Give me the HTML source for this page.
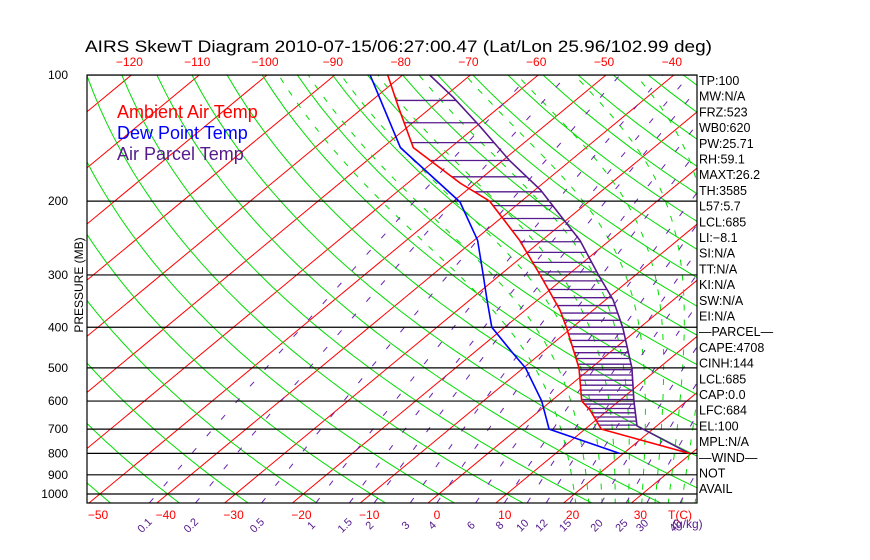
<!DOCTYPE html>
<html><head><meta charset="utf-8"><style>
html,body{margin:0;padding:0;background:#fff;width:870px;height:560px;overflow:hidden}
svg text{font-family:"Liberation Sans",sans-serif}
</style></head><body>
<svg id="c" width="870" height="560" viewBox="0 0 870 560" xmlns="http://www.w3.org/2000/svg">
<defs><clipPath id="pc"><rect x="87" y="75" width="610" height="428"/></clipPath></defs>
<rect width="870" height="560" fill="#fff"/>
<text x="85" y="52" font-size="17" textLength="627" lengthAdjust="spacingAndGlyphs" fill="#000">AIRS SkewT Diagram 2010-07-15/06:27:00.47 (Lat/Lon 25.96/102.99 deg)</text>
<g id="grid" clip-path="url(#pc)"></g>
<g id="series" clip-path="url(#pc)"></g>
<g id="axes"></g>
<text x="117" y="118" font-size="18" fill="#ff0000">Ambient Air Temp</text>
<text x="117" y="139" font-size="18" fill="#0000ff">Dew Point Temp</text>
<text x="117" y="160" font-size="18" fill="#551a8b">Air Parcel Temp</text>
<text transform="translate(83,285) rotate(-90)" font-size="12" text-anchor="middle" fill="#000">PRESSURE (MB)</text>
</svg>
<script>
// ---- data ----
const ambientP = [100,119,149,181,200,248,300,364,400,500,600,630,700,800];
const ambientT = [-82.2,-75.0,-65.5,-52.3,-44.7,-33.3,-24.1,-14.9,-10.9,-1.8,4.5,7.3,12.4,29.7];
const dewP = [100,149,201,248,300,344,400,461,500,600,700,800];
const dewT = [-84.8,-67.4,-48.9,-39.5,-32.5,-27.5,-21.9,-14.2,-9.7,-1.4,4.7,19.4];
const parcelP = [100,113,132,160,188,216,248,300,344,400,500,600,688,800];
const parcelT = [-76.0,-68.6,-59.7,-49.0,-39.2,-31.8,-24.4,-15.5,-8.9,-2.6,6.0,12.2,17.1,29.7];
const pressureTicks = [100,200,300,400,500,600,700,800,900,1000];
const bottomTempTicks = [-50,-40,-30,-20,-10,0,10,20,30];
const topTempTicks = [-120,-110,-100,-90,-80,-70,-60,-50,-40];
const mixRatios = [0.1,0.2,0.5,1,1.5,2,3,4,6,8,10,12,15,20,25,30,40];
const mixLabels = ["0.1","0.2","0.5","1","1.5","2","3","4","6","8","10","12","15","20","25","30","40"];
const indexLabels = ["TP:100","MW:N/A","FRZ:523","WB0:620","PW:25.71","RH:59.1","MAXT:26.2","TH:3585","L57:5.7","LCL:685","LI:\u22128.1","SI:N/A","TT:N/A","KI:N/A","SW:N/A","EI:N/A","\u2014PARCEL\u2014","CAPE:4708","CINH:144","LCL:685","CAP:0.0","LFC:684","EL:100","MPL:N/A","\u2014WIND\u2014","NOT","AVAIL"];

// ---- axes ----
const X0=87,X1=697,Y0=75,Y1=503,K=419,T0X=428,DT=6.78,SK=1.208;
function yP(p){return Y0+K*Math.log10(p/100);}
function xT(T,y){return T0X+DT*T+(Y1-y)*SK;}
const NS="http://www.w3.org/2000/svg";
function mk(tag,attrs,parent){const e=document.createElementNS(NS,tag);for(const k in attrs)e.setAttribute(k,attrs[k]);parent.appendChild(e);return e;}
const grid=document.getElementById('grid'),ser=document.getElementById('series'),axes=document.getElementById('axes');

// isotherms
for(let T=-160;T<=50;T+=10){
  const l=mk('line',{x1:xT(T,Y1),y1:Y1,x2:xT(T,Y0),y2:Y0,stroke:'#ff0000','stroke-width':1},grid);
  
  
}
// dry adiabats
for(let th=-60;th<=300;th+=10){
  let d='';
  for(let p=1060;p>=95;p-=10){const y=yP(p);const T=(th+273.15)*Math.pow(p/1000,0.286)-273.15;d+=(d?'L':'M')+xT(T,y).toFixed(1)+' '+y.toFixed(1);}
  const pa=mk('path',{d:d,fill:'none',stroke:'#00dd00','stroke-width':1},grid);
  
  
}
// moist adiabats
function es(T){return 6.112*Math.exp(17.67*T/(T+243.5));}
function dTdp(T,p){const Tk=T+273.15,e=es(T),rs=0.622*e/(p-e),Lv=2.5e6,Rd=287,Cp=1004;
  return (Rd*Tk+Lv*rs)/(p*(Cp+Lv*Lv*rs*0.622/(Rd*Tk*Tk)));}
for(let tw=20;tw<=40;tw+=2){
  let pts=[];let T=tw;
  for(let p=1000;p<=1060;p+=5){pts.unshift([p,T]);T+=dTdp(T,p)*5;}
  T=tw;
  for(let p=1000;p>=100;p-=5){pts.push([p,T]);T-=dTdp(T,p)*5;}
  let d='';pts.forEach(q=>{const y=yP(q[0]);d+=(d?'L':'M')+xT(q[1],y).toFixed(1)+' '+y.toFixed(1);});
  const pa=mk('path',{d:d,fill:'none',stroke:'#00dd00','stroke-width':1,'stroke-dasharray':'6,9'},grid);
  
  
}
// mixing ratio lines
function tdW(w,p){const e=w*p/(622+w);const L=Math.log(e/6.112);return 243.5*L/(17.67-L);}
mixRatios.forEach((w,i)=>{
  let d='';
  for(let p=1050;p>=100;p-=10){const y=yP(p);d+=(d?'L':'M')+xT(tdW(w,p),y).toFixed(1)+' '+y.toFixed(1);}
  const pa=mk('path',{d:d,fill:'none',stroke:'#6a1fb0','stroke-width':1,'stroke-dasharray':'6,16'},grid);
  
  
  const x=xT(tdW(w,1050),Y1);
  const t=mk('text',{x:0,y:0,transform:'translate('+(x-2).toFixed(1)+',528) rotate(-45)','font-size':11,fill:'#551a8b','text-anchor':'middle'},axes);
  t.textContent=mixLabels[i];
  
  
});
// pressure lines
pressureTicks.forEach(p=>{
  const y=yP(p);
  const l=mk('line',{x1:X0,y1:y,x2:X1,y2:y,stroke:'#000','stroke-width':1.2},ser);
  
  
  const t=mk('text',{x:68,y:y+4,'font-size':12,'text-anchor':'end',fill:'#000'},axes);
  t.textContent=p;
  
  
});
// hatching between parcel and ambient
function interp(P,Tarr,p){for(let i=0;i<P.length-1;i++){if(p>=P[i]&&p<=P[i+1]){const a=Math.log(P[i]),b=Math.log(P[i+1]),f=(Math.log(p)-a)/(b-a);return Tarr[i]+f*(Tarr[i+1]-Tarr[i]);}}return null;}
for(let p=115;p<=690;p+=15){
  const ta=interp(ambientP,ambientT,p),tp=interp(parcelP,parcelT,p);
  if(ta===null||tp===null||tp<=ta)continue;
  const y=yP(p);
  const l=mk('line',{x1:xT(ta,y),y1:y,x2:xT(tp,y),y2:y,stroke:'#551a8b','stroke-width':1.3},ser);
  
  
}
function curve(P,Tarr,color,name){
  let d='';P.forEach((p,i)=>{const y=yP(p);d+=(i?'L':'M')+xT(Tarr[i],y).toFixed(1)+' '+y.toFixed(1);});
  const pa=mk('path',{d:d,fill:'none',stroke:color,'stroke-width':1.6},ser);
  
  
}
curve(dewP,dewT,'#0000ff','dewpoint-line');
curve(parcelP,parcelT,'#551a8b','parcel-line');
curve(ambientP,ambientT,'#ff0000','ambient-temp-line');
// frame
const fr=mk('rect',{x:X0,y:Y0,width:X1-X0,height:Y1-Y0,fill:'none',stroke:'#000','stroke-width':1.2},axes);


bottomTempTicks.forEach(T=>{
  const t=mk('text',{x:xT(T,Y1)+9,y:519,'font-size':12,'text-anchor':'middle',fill:'#ff0000'},axes);
  t.textContent=T<0?'\u2212'+(-T):T;
  
  
});
topTempTicks.forEach(T=>{
  const t=mk('text',{x:xT(T,Y0)-2,y:66,'font-size':12,'text-anchor':'middle',fill:'#ff0000'},axes);
  t.textContent='\u2212'+(-T);
  
  
});
let tc=mk('text',{x:668,y:519,'font-size':12,fill:'#ff0000'},axes);tc.textContent='T(C)';


let gk=mk('text',{x:672,y:528,'font-size':12,fill:'#551a8b'},axes);gk.textContent='(g/kg)';


indexLabels.forEach((s,i)=>{
  const t=mk('text',{x:699,y:85+i*15.7,'font-size':12.5,fill:'#000'},axes);
  t.textContent=s;
  
  
});
</script>
</body></html>
